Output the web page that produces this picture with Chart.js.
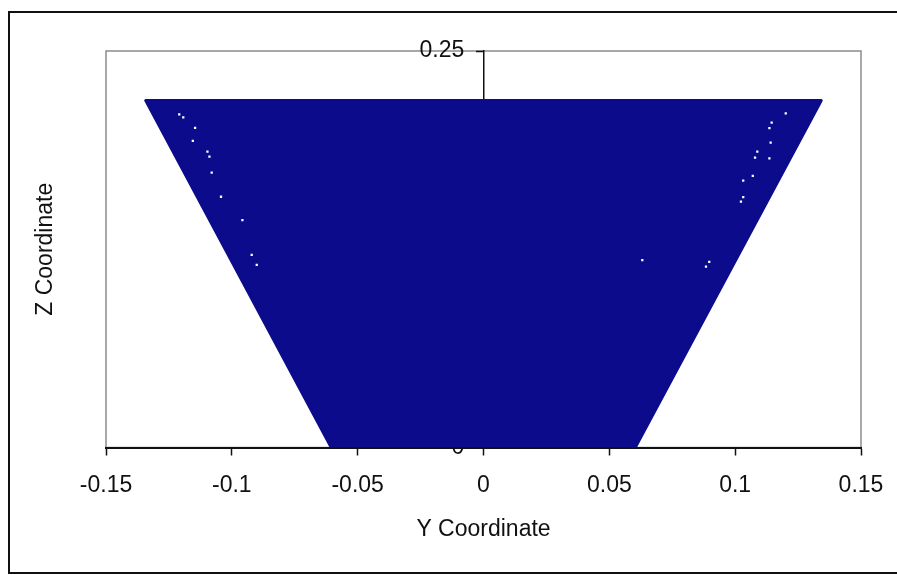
<!DOCTYPE html>
<html>
<head>
<meta charset="utf-8">
<title>Z vs Y coordinate</title>
<script src="https://cdn.jsdelivr.net/npm/chart.js@4.4.0/dist/chart.umd.min.js"></script>
<style>
  html, body { margin: 0; padding: 0; background: #fff; }
  canvas { display: block; }
</style>
</head>
<body>
<canvas id="chartCoords" width="897" height="575"></canvas>
<script>
// ================================
// point cloud outline (corners), Y / Z coordinates
// ================================
const outlineY = [-0.0605, -0.1342, 0.1342, 0.0603];
const outlineZ = [0, 0.2188, 0.2188, 0];

// empty spots left inside the cloud
const gapY = [-0.1209, -0.1193, -0.1146, -0.1155, -0.1097, -0.1089, -0.1080, -0.1043, -0.0958, -0.0921, -0.0901,
              0.1201, 0.1145, 0.1136, 0.1141, 0.1088, 0.1079, 0.1136, 0.1070, 0.1032, 0.1032, 0.1023, 0.0897, 0.0884, 0.0631];
const gapZ = [0.2101, 0.2082, 0.2016, 0.1933, 0.1865, 0.1834, 0.1733, 0.1581, 0.1433, 0.1214, 0.1151,
              0.2107, 0.2048, 0.2013, 0.1922, 0.1865, 0.1827, 0.1823, 0.1712, 0.1682, 0.1578, 0.1550, 0.1171, 0.1140, 0.1182];

const xTickLabels = ["-0.15", "-0.1", "-0.05", "0", "0.05", "0.1", "0.15"];
const yTickLabels = ["0", "0.05", "0.1", "0.15", "0.2", "0.25"];

const NAVY = "#0b0b8c";
const INK = "#111111";
const FONT = "'Liberation Sans', Arial, sans-serif";
const font = { family: FONT, size: 23 };
const tickFont = { family: FONT, size: 23, lineHeight: 1.5 };

function toPoints(xs, ys) {
  return xs.map((x, i) => ({ x, y: ys[i] }));
}

// background, outer frame, plot box and the Z title
const framePlugin = {
  id: "frame",
  beforeDraw(chart) {
    const { ctx, chartArea: a } = chart;
    ctx.save();
    ctx.fillStyle = "#fff";
    ctx.fillRect(0, 0, chart.width, chart.height);

    ctx.strokeStyle = INK;
    ctx.lineWidth = 2;
    ctx.strokeRect(9, 12, chart.width, 561);

    ctx.strokeStyle = "#8c8c8c";
    ctx.lineWidth = 1.5;
    ctx.strokeRect(a.left, a.top, a.right - a.left, a.bottom - a.top);

    ctx.translate(46, (a.top + a.bottom) / 2);
    ctx.rotate(-Math.PI / 2);
    ctx.font = `23px ${FONT}`;
    ctx.fillStyle = INK;
    ctx.textAlign = "center";
    ctx.textBaseline = "middle";
    ctx.fillText("Z Coordinate", 0, 0);
    ctx.restore();
  }
};

new Chart(document.getElementById("chartCoords"), {
  type: "scatter",
  data: {
    datasets: [
      {
        label: "gaps",
        data: toPoints(gapY, gapZ),
        pointStyle: "rect",
        pointRadius: 1.6,
        pointBackgroundColor: "#ffffff",
        pointBorderWidth: 0,
        order: 0
      },
      {
        label: "points",
        data: toPoints(outlineY, outlineZ),
        showLine: true,
        fill: "shape",
        backgroundColor: NAVY,
        borderColor: NAVY,
        borderWidth: 3,
        borderJoinStyle: "round",
        pointRadius: 0,
        clip: 0,
        order: 1
      }
    ]
  },
  options: {
    responsive: false,
    animation: false,
    layout: { padding: { left: 106, top: 51, right: 36, bottom: 27.4 } },
    plugins: {
      legend: { display: false },
      tooltip: { enabled: false }
    },
    scales: {
      x: {
        type: "linear",
        position: "bottom",
        min: -0.15, max: 0.15,
        z: 1,
        ticks: { stepSize: 0.05, color: INK, font: tickFont, padding: 13, maxRotation: 0,
                 callback: (v, i) => xTickLabels[i] },
        grid: { drawOnChartArea: false, tickLength: 8, tickColor: INK, tickWidth: 1.5 },
        border: { color: INK, width: 2 },
        title: { display: true, text: "Y Coordinate", color: INK, font, padding: { top: 0, bottom: 4 } }
      },
      y: {
        type: "linear",
        position: { x: 0 },
        min: 0, max: 0.25,
        z: 1,
        ticks: { stepSize: 0.05, color: INK, font,
                 callback: (v, i) => yTickLabels[i] + "   " },
        grid: { drawOnChartArea: false, tickLength: 7, tickColor: INK, tickWidth: 1.5 },
        border: { color: INK, width: 1.5 }
      }
    }
  },
  plugins: [framePlugin]
});
</script>
</body>
</html>
